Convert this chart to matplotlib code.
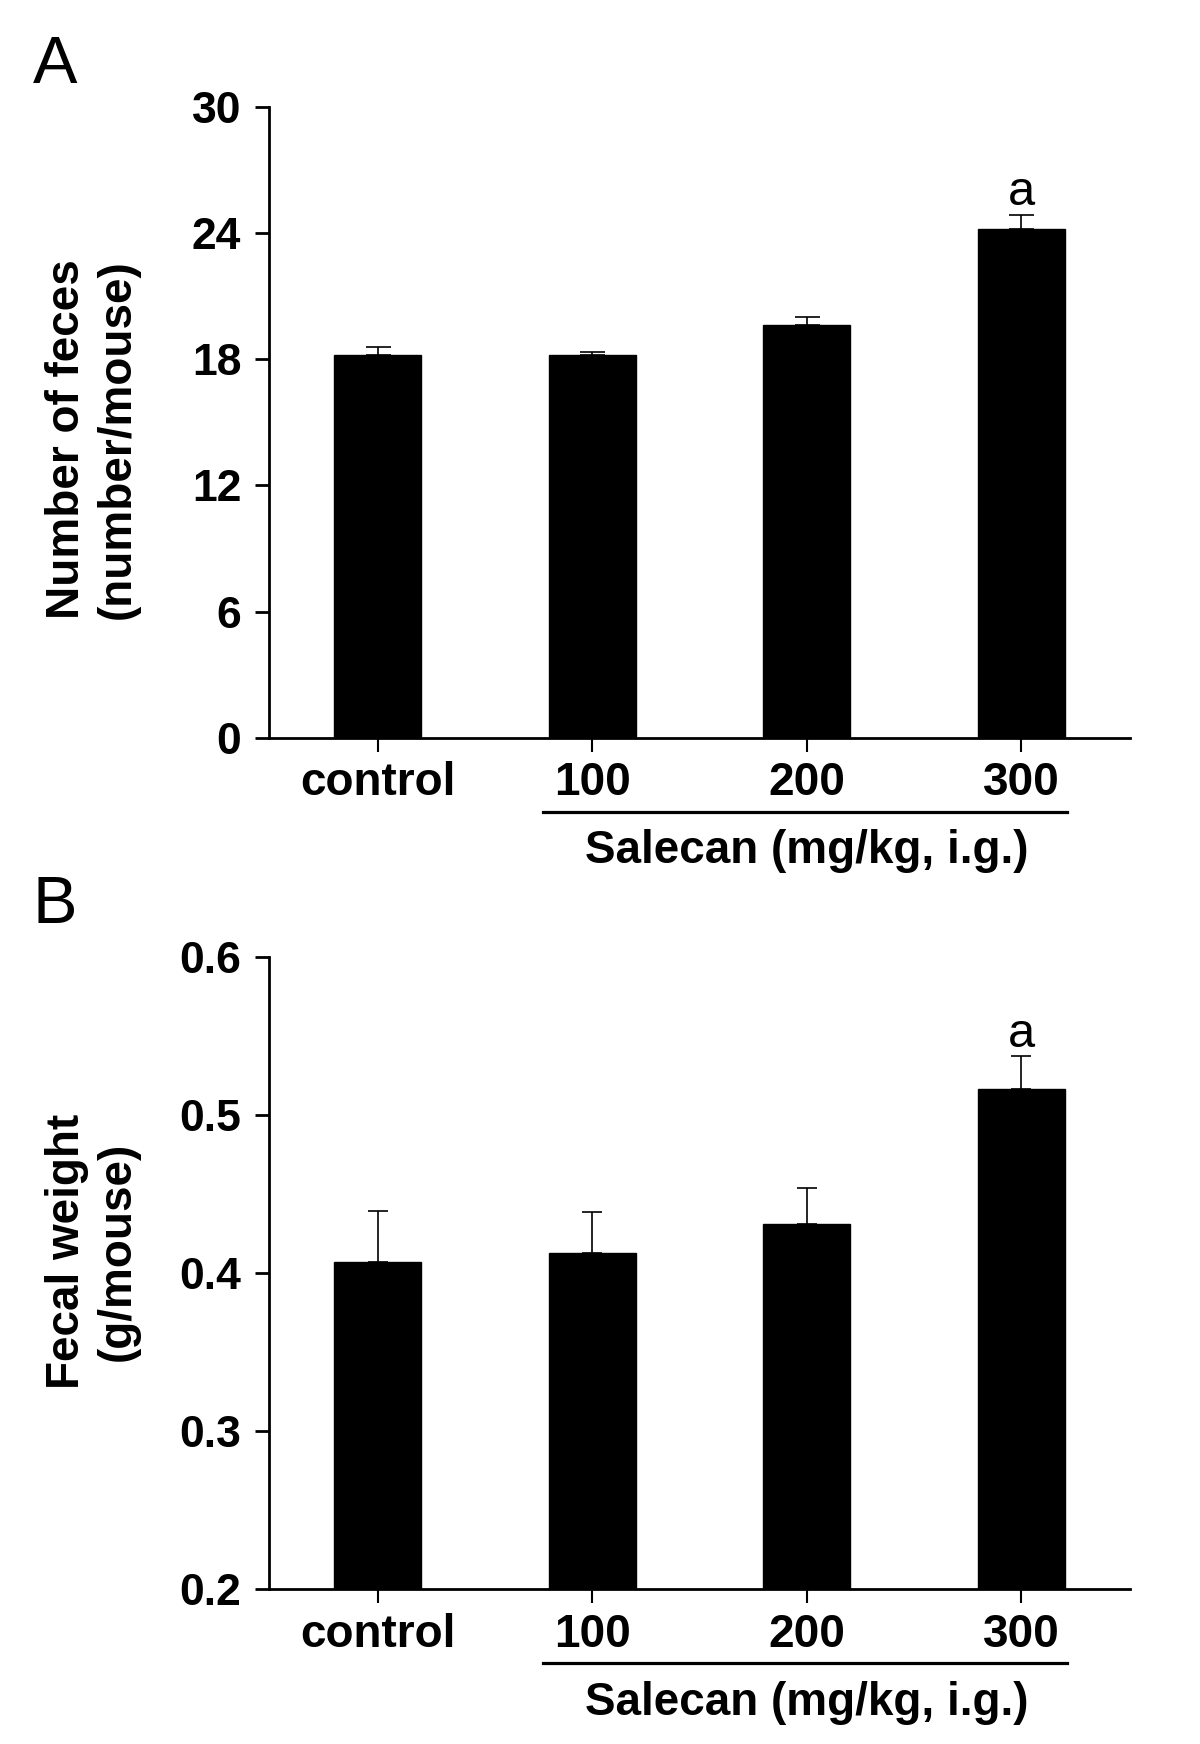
import numpy as np
import matplotlib
matplotlib.use('Agg')
import matplotlib.pyplot as plt

plt.rcParams['font.family'] = ['Liberation Sans', 'DejaVu Sans']

# data
groups = ['control', '100', '200', '300']
feces_num = [18.22, 18.22, 19.62, 24.21]
feces_num_err = [0.34, 0.13, 0.37, 0.66]
fecal_wt = [0.407, 0.413, 0.4315, 0.5167]
fecal_wt_err = [0.0325, 0.0257, 0.0225, 0.0206]
sig = ['', '', '', 'a']

fig = plt.figure(figsize=(12, 17.44), dpi=100)
axA = fig.add_axes([0.2242, 0.5770, 0.7175, 0.3617])
axB = fig.add_axes([0.2242, 0.0887, 0.7175, 0.3624])

x = np.arange(len(groups))


def draw_panel(ax, vals, errs, ylim, yticks, yticklabels, capsize):
    ax.bar(x, vals, width=0.405, color='black', edgecolor='black', zorder=2)
    ax.errorbar(x, vals, yerr=[np.zeros(len(vals)), errs], fmt='none',
                ecolor='black', elinewidth=1.2, capsize=capsize, capthick=1.2, zorder=1)
    ax.set_xlim(-0.506, 3.508)
    ax.set_ylim(*ylim)
    ax.set_yticks(yticks)
    ax.set_yticklabels(yticklabels)
    ax.set_xticks(x)
    ax.set_xticklabels(groups)
    for s in ['top', 'right']:
        ax.spines[s].set_visible(False)
    for s in ['left', 'bottom']:
        ax.spines[s].set_linewidth(2)
    ax.tick_params(axis='both', direction='out', length=10, width=2)
    ax.tick_params(axis='y', pad=10, labelsize=32)
    ax.tick_params(axis='x', pad=7, width=1.5, labelsize=33)
    for lab in ax.get_xticklabels() + ax.get_yticklabels():
        lab.set_fontweight('bold')
    # significance letters
    for i in range(len(vals)):
        if sig[i]:
            ax.annotate(sig[i], (x[i], vals[i] + errs[i]), xytext=(0, 7),
                        textcoords='offset points', ha='center', va='baseline',
                        fontsize=35)
    # bracket under dose groups
    tr = ax.get_xaxis_transform()
    ax.plot([0.772, 3.214], [-0.117, -0.117], color='black', lw=2.3,
            transform=tr, clip_on=False)
    ax.text(2.0, -0.18, 'Salecan (mg/kg, i.g.)', transform=tr, ha='center',
            va='center', fontsize=33, fontweight='bold')


draw_panel(axA, feces_num, feces_num_err, (0, 30), [0, 6, 12, 18, 24, 30],
           ['0', '6', '12', '18', '24', '30'], 9)
draw_panel(axB, fecal_wt, fecal_wt_err, (0.2, 0.6), [0.2, 0.3, 0.4, 0.5, 0.6],
           ['0.2', '0.3', '0.4', '0.5', '0.6'], 7)

fig.text(0.0767, 0.7483, 'Number of feces\n(number/mouse)', rotation=90,
         ha='center', va='center', multialignment='center',
         fontsize=33, fontweight='bold')
fig.text(0.0767, 0.2827, 'Fecal weight\n(g/mouse)', rotation=90,
         ha='center', va='center', multialignment='center',
         fontsize=33, fontweight='bold')

fig.text(0.0275, 0.9524, 'A', fontsize=48, va='baseline', ha='left')
fig.text(0.0275, 0.4708, 'B', fontsize=48, va='baseline', ha='left')

fig.savefig('out.png', dpi=100)
